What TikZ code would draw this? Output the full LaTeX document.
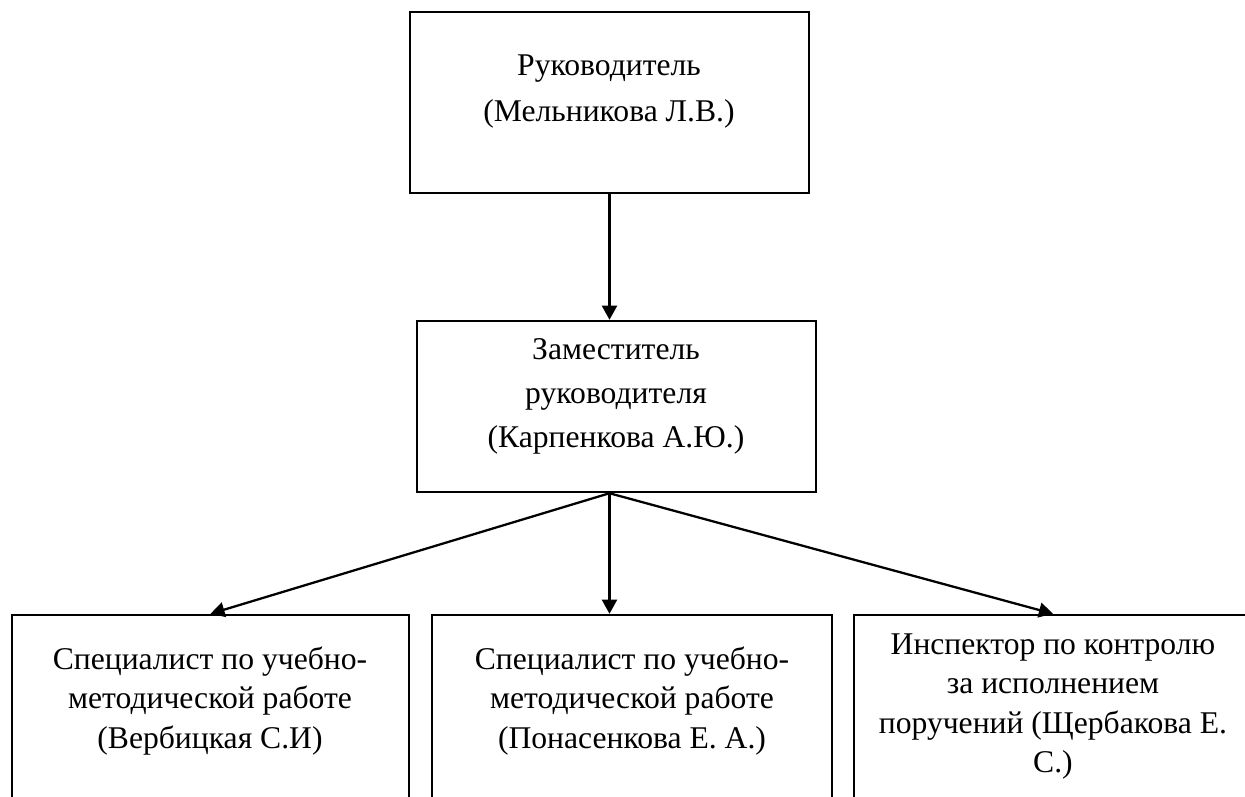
\documentclass[tikz,border=0pt]{standalone}
\usepackage{fontspec}
\setmainfont{Liberation Serif}
\usetikzlibrary{arrows.meta,fit}
\tikzset{
  unit/.style={draw=black, line width=1.4pt, inner sep=0pt},
  caption/.style={inner sep=0pt, align=center, anchor=north, font=\fontsize{18}{25}\selectfont},
  capbig/.style={caption, font=\fontsize{18}{26.5}\selectfont},
  capsmall/.style={caption, font=\fontsize{18}{22.5}\selectfont},
  link/.style={-{Triangle[length=8pt,width=8.5pt]}, line width=1.3pt}
}

\begin{document}
\begin{tikzpicture}[x=0.02cm, y=-0.02cm]
  \useasboundingbox (0,0) rectangle (1245,796);
  \clip (0,0) rectangle (1245,796);

  % boxes
  \node[unit, fit={(410,12) (809,193)}] (lead) {};
  \node[unit, fit={(417,321) (816,492)}] (deputy) {};
  \node[unit, fit={(12,615) (409,840)}] (spec1) {};
  \node[unit, fit={(432,615) (832,840)}] (spec2) {};
  \node[unit, fit={(854,615) (1252,840)}] (insp) {};
  \coordinate (fork) at (deputy.south -| lead.south);

  % texts
  \node[capbig] (leadtxt) at (609,54) {Руководитель\\(Мельникова Л.В.)};
  \node[caption] (deputytxt) at (616,338) {Заместитель\\руководителя\\(Карпенкова А.Ю.)};
  \node[capsmall] (spec1txt) at (210,646) {Специалист по учебно-\\методической работе\\(Вербицкая С.И)};
  \node[capsmall] (spec2txt) at (632,646) {Специалист по учебно-\\методической работе\\(Понасенкова Е. А.)};
  \node[capsmall] (insptxt) at (1053,633) {Инспектор по контролю\\за исполнением\\поручений (Щербакова Е.\\С.)};

  % arrows
  \draw[link] (lead.south) -- (lead.south |- deputy.north);
  \draw[link] (fork) -- (spec1.north);
  \draw[link] (fork) -- (fork |- spec2.north);
  \draw[link] (fork) -- (insp.north);
\end{tikzpicture}
\end{document}
